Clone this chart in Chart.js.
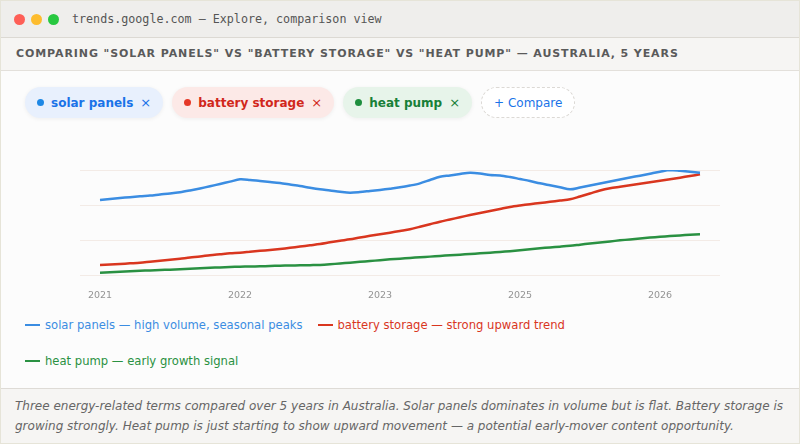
<!DOCTYPE html>
<html><head><meta charset="utf-8">
<script src="https://cdn.jsdelivr.net/npm/chart.js@4.4.1/dist/chart.umd.min.js"></script>
<style>
html,body{margin:0;padding:0;width:800px;height:444px;overflow:hidden;background:#fcfcfc;font-family:"DejaVu Sans",sans-serif;}
.abs{position:absolute;}
#titlebar{left:0;top:0;width:800px;height:37px;background:#efeeec;border-bottom:1px solid #dcd9d3;}
.dot{position:absolute;top:13.5px;width:11px;height:11px;border-radius:50%;}
#ttext{position:absolute;left:72px;top:0;line-height:38px;font-family:"DejaVu Sans Mono",monospace;font-size:11.7px;color:#555;white-space:nowrap;}
#header{left:0;top:38px;width:800px;height:32px;background:#f6f5f3;border-bottom:1px solid #e3e0db;}
#htext{position:absolute;left:16px;top:0;line-height:32px;font-weight:bold;font-size:11px;letter-spacing:0.9px;color:#5a5a5a;white-space:nowrap;}
#chips{left:25px;top:87px;display:flex;gap:9px;}
.chip{height:31px;border-radius:16px;padding:0 12px;display:flex;align-items:center;gap:7px;font-weight:bold;font-size:12px;white-space:nowrap;box-shadow:0 1px 4px rgba(0,0,0,0.06);}
.chip .d{width:7px;height:7px;border-radius:50%;}
.chip .x{font-weight:normal;font-size:13px;}
.chip.add{background:#fff;border:1px dashed #dcd9d5;font-weight:normal;color:#1a73e8;height:29px;box-shadow:none;}
#chartwrap{left:0;top:140px;width:800px;height:160px;}
#legend{left:25px;top:318px;width:690px;display:flex;flex-wrap:wrap;column-gap:15px;row-gap:22px;}
.li{display:flex;align-items:center;gap:5px;font-size:11.6px;line-height:14px;white-space:nowrap;}
.li .ln{width:15px;height:2.5px;}
#footer{left:0;top:388px;width:800px;height:56px;background:#f6f5f3;border-top:1px solid #dedbd6;}
#caption{position:absolute;left:15px;top:8px;width:775px;font-style:italic;font-size:12px;line-height:19.5px;color:#666;}
#frame{left:0;top:0;width:798px;height:442px;border:1px solid #e6e4d8;pointer-events:none;}
</style>
</head><body>
<div id="titlebar" class="abs">
  <div class="dot" style="left:13.5px;background:#fe5f57"></div>
  <div class="dot" style="left:30.5px;background:#fdbc2e"></div>
  <div class="dot" style="left:47.5px;background:#28c840"></div>
  <div id="ttext">trends.google.com — Explore, comparison view</div>
</div>
<div id="header" class="abs"><div id="htext">COMPARING "SOLAR PANELS" VS "BATTERY STORAGE" VS "HEAT PUMP" — AUSTRALIA, 5 YEARS</div></div>
<div id="chips" class="abs"></div>
<div id="chartwrap" class="abs"><canvas id="c"></canvas></div>
<div id="legend" class="abs"></div>
<div id="footer" class="abs"><div id="caption">Three energy-related terms compared over 5 years in Australia. Solar panels dominates in volume but is flat. Battery storage is growing strongly. Heat pump is just starting to show upward movement — a potential early-mover content opportunity.</div></div>
<div id="frame" class="abs"></div>
<script>
// ---- data ----
const seriesNames = ['solar panels', 'battery storage', 'heat pump'];
const seriesNotes = ['high volume, seasonal peaks', 'strong upward trend', 'early growth signal'];
const tickLabels = ['2021', '2022', '2023', '2025', '2026'];
const tickStep = 14; // points between labelled ticks
const solarPanels = [71.4,72.4,73.3,74.1,75.0,75.7,76.7,77.6,78.8,80.5,
  82.4,84.5,86.7,88.9,91.1,90.5,89.5,88.6,87.6,86.2,
  84.8,83.1,81.6,80.5,79.3,78.4,79.0,80.0,81.0,82.2,
  83.5,85.2,87.3,90.5,93.6,94.8,96.2,97.4,96.7,95.2,
  94.8,93.3,91.4,89.5,87.3,85.4,83.5,81.6,83.3,85.2,
  87.1,89.0,91.0,92.9,94.6,96.5,98.4,100,99.3,98.4,97.4];
const batteryStorage = [9.5,10.0,10.5,11.1,11.7,12.6,13.5,14.5,15.5,16.7,
  17.6,18.9,19.8,20.7,21.2,22.1,23.0,23.8,24.8,25.9,
  27.1,28.3,29.5,31.1,32.6,34.0,35.7,37.3,38.8,40.3,
  41.9,43.5,46.0,48.4,50.8,52.9,55.0,57.1,59.0,61.0,
  62.9,64.8,66.2,67.4,68.6,69.7,70.9,72.1,74.8,77.6,
  80.5,82.6,84.0,85.4,86.9,88.3,89.7,91.1,92.7,94.3,95.9];
const heatPump = [2.2,2.6,3.0,3.5,4.0,4.4,4.8,5.0,5.4,5.9,
  6.4,6.9,7.2,7.6,7.9,8.1,8.3,8.6,8.9,9.0,
  9.2,9.4,9.6,10.2,11.0,11.7,12.6,13.3,14.1,14.9,
  15.5,16.2,16.9,17.5,18.2,18.8,19.4,20.0,20.7,21.3,
  22.0,22.7,23.6,24.6,25.4,26.3,27.0,27.8,28.9,30.0,
  31.0,32.0,33.0,33.9,34.8,35.6,36.4,37.1,37.7,38.3,38.8];

// ---- styles ----
const lineColors = ['#3b8de2', '#d9361f', '#2a9142'];
const chipBg = ['#e8f0fd', '#fce9e7', '#e7f4ea'];
const chipText = ['#1a73e8', '#d1271b', '#188038'];
const dotColors = ['#1e88e5', '#e53828', '#1e8e3e'];

const seriesValues = [solarPanels, batteryStorage, heatPump];

// chips
const chips = document.getElementById('chips');
seriesNames.forEach((n, i) => {
  const el = document.createElement('div');
  el.className = 'chip';
  el.style.background = chipBg[i];
  el.style.color = chipText[i];
  el.innerHTML = '<span class="d" style="background:' + dotColors[i] + '"></span><span>' + n + '</span><span class="x">×</span>';
  chips.appendChild(el);
});
const add = document.createElement('div');
add.className = 'chip add';
add.textContent = '+ Compare';
chips.appendChild(add);

const chart = new Chart(document.getElementById('c'), {
  type: 'line',
  data: {
    datasets: seriesNames.map((n, i) => ({
      label: n,
      data: seriesValues[i].map((v, k) => ({ x: k, y: v })),
      borderColor: lineColors[i],
      backgroundColor: lineColors[i],
      borderWidth: 2.5,
      pointRadius: 0,
      tension: 0.3,
      fill: false
    }))
  },
  options: {
    responsive: true,
    maintainAspectRatio: false,
    animation: false,
    layout: { padding: { left: 80, right: 80, top: 30, bottom: 0 } },
    plugins: { legend: { display: false }, tooltip: { enabled: false } },
    scales: {
      x: {
        type: 'linear',
        min: -2,
        max: (solarPanels.length - 1) + 2,
        grid: { display: false },
        border: { display: false },
        afterBuildTicks: (s) => { s.ticks = tickLabels.map((_, i) => ({ value: i * tickStep })); },
        afterFit: (s) => { s.height = 25; },
        ticks: {
          autoSkip: false,
          maxRotation: 0,
          padding: 7,
          color: '#949494',
          font: { family: 'DejaVu Sans', size: 9.5 },
          callback: (v) => tickLabels[Math.round(v / tickStep)]
        }
      },
      y: {
        min: 0,
        max: 100,
        afterFit: (s) => { s.width = 0; },
        border: { display: false },
        grid: { color: '#f3ebe6', drawTicks: false, lineWidth: 1 },
        ticks: { display: false, count: 4 }
      }
    }
  }
});

// legend built from chart datasets
const legend = document.getElementById('legend');
chart.data.datasets.forEach((ds, i) => {
  const el = document.createElement('div');
  el.className = 'li';
  el.style.color = ds.borderColor;
  el.innerHTML = '<span class="ln" style="background:' + ds.borderColor + '"></span><span>' + ds.label + ' — ' + seriesNotes[i] + '</span>';
  legend.appendChild(el);
});
</script>
</body></html>
